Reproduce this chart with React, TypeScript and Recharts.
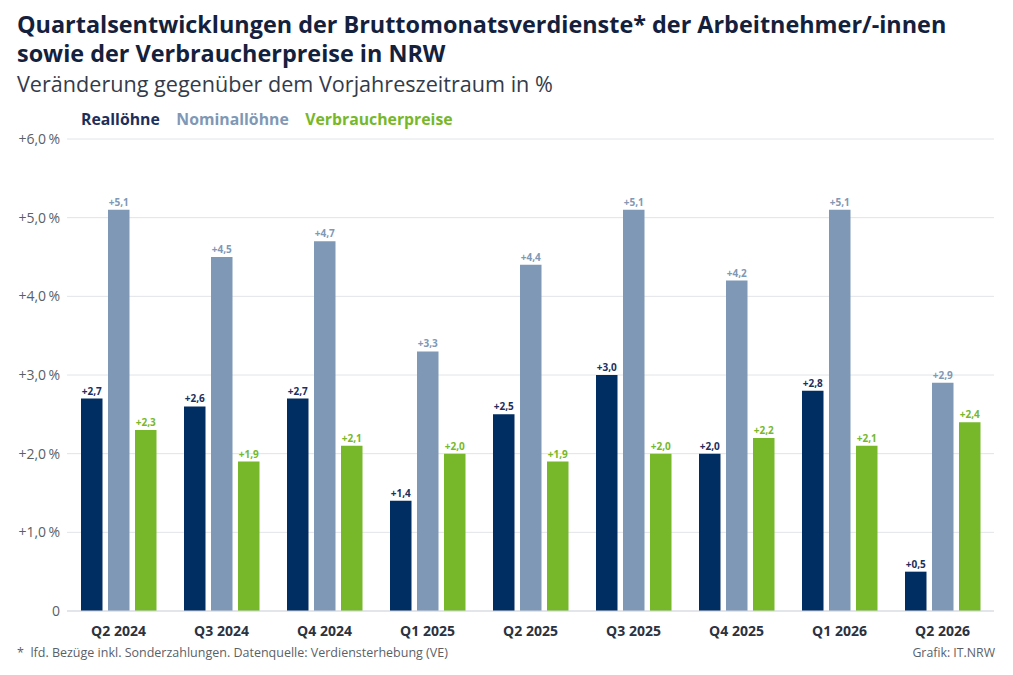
import React from 'react';
import { BarChart, Bar, XAxis, YAxis, CartesianGrid, LabelList } from 'recharts';

const quarters = ['Q2 2024', 'Q3 2024', 'Q4 2024', 'Q1 2025', 'Q2 2025', 'Q3 2025', 'Q4 2025', 'Q1 2026', 'Q2 2026'];
const realLoehne = [2.7, 2.6, 2.7, 1.4, 2.5, 3.0, 2.0, 2.8, 0.5];
const nominalLoehne = [5.1, 4.5, 4.7, 3.3, 4.4, 5.1, 4.2, 5.1, 2.9];
const verbraucherpreise = [2.3, 1.9, 2.1, 2.0, 1.9, 2.0, 2.2, 2.1, 2.4];
const yTicks = [0, 1, 2, 3, 4, 5, 6];

const FONT = '"Open Sans", sans-serif';
const NAVY = '#002d62';
const STEEL = '#7f98b5';
const GREEN = '#76b82a';
const TEXT = '#14213d';

const data = quarters.map((q, i) => ({
  q,
  real: realLoehne[i],
  nominal: nominalLoehne[i],
  preise: verbraucherpreise[i],
}));

const fmtLabel = (v: number) => '+' + v.toFixed(1).replace('.', ',');
const fmtTick = (v: number) => (v === 0 ? '0' : '+' + v.toFixed(1).replace('.', ',') + '\u2009%');

const legendItems = [
  { label: 'Reallöhne', color: '#1c2f5c' },
  { label: 'Nominallöhne', color: STEEL },
  { label: 'Verbraucherpreise', color: GREEN },
];

const App: React.FC = () => {
  const labelStyle = { fontFamily: FONT, fontSize: 10, fontWeight: 700 };
  return (
    <div style={{ position: 'absolute', left: 0, top: 0, width: 1013, height: 675, background: '#fff', overflow: 'hidden' }}>
      <div style={{ position: 'absolute', left: 17, top: 10, fontFamily: FONT, fontWeight: 700, fontSize: 23.4, lineHeight: '29px', color: TEXT, whiteSpace: 'nowrap' }}>
        Quartalsentwicklungen der Bruttomonatsverdienste* der Arbeitnehmer/-innen
        <br />
        sowie der Verbraucherpreise in NRW
      </div>
      <div style={{ position: 'absolute', left: 17, top: 69, fontFamily: FONT, fontSize: 21.6, lineHeight: '29px', color: '#333b4a', whiteSpace: 'nowrap' }}>
        Veränderung gegenüber dem Vorjahreszeitraum in %
      </div>
      <div style={{ position: 'absolute', left: 81, top: 108, display: 'flex', gap: 16.5, fontFamily: FONT, fontWeight: 700, fontSize: 15.8, lineHeight: '22px', whiteSpace: 'nowrap' }}>
        {legendItems.map((l) => (
          <span key={l.label} style={{ color: l.color }}>{l.label}</span>
        ))}
      </div>
      <BarChart
        width={1013}
        height={675}
        data={data}
        margin={{ top: 139, right: 19, bottom: 34, left: 7 }}
        barSize={21.5}
        barGap={5.5}
      >
        <CartesianGrid vertical={false} stroke="#e1e4e8" strokeWidth={1} />
        <XAxis
          dataKey="q"
          axisLine={{ stroke: '#d5d9de' }}
          tickLine={false}
          tickMargin={9}
          height={30}
          tick={{ fontFamily: FONT, fontSize: 14, fontWeight: 700, fill: '#2b3240' }}
        />
        <YAxis
          width={60}
          domain={[0, 6]}
          ticks={yTicks}
          tickFormatter={fmtTick}
          axisLine={false}
          tickLine={false}
          tickMargin={1}
          tick={{ fontFamily: FONT, fontSize: 14, fill: '#5a5f68' }}
        />
        <Bar dataKey="real" name="Reallöhne" fill={NAVY} isAnimationActive={false}>
          <LabelList dataKey="real" position="top" offset={4} formatter={fmtLabel} style={{ ...labelStyle, fill: '#1c2f5c' }} />
        </Bar>
        <Bar dataKey="nominal" name="Nominallöhne" fill={STEEL} isAnimationActive={false}>
          <LabelList dataKey="nominal" position="top" offset={4} formatter={fmtLabel} style={{ ...labelStyle, fill: STEEL }} />
        </Bar>
        <Bar dataKey="preise" name="Verbraucherpreise" fill={GREEN} isAnimationActive={false}>
          <LabelList dataKey="preise" position="top" offset={4} formatter={fmtLabel} style={{ ...labelStyle, fill: GREEN }} />
        </Bar>
      </BarChart>
      <div style={{ position: 'absolute', left: 17, top: 644, fontFamily: FONT, fontSize: 12.5, lineHeight: '17px', color: '#5a5f68', whiteSpace: 'pre' }}>
        {'*  lfd. Bezüge inkl. Sonderzahlungen. Datenquelle: Verdiensterhebung (VE)'}
      </div>
      <div style={{ position: 'absolute', right: 18, top: 644, fontFamily: FONT, fontSize: 12.3, lineHeight: '17px', color: '#5a5f68' }}>
        Grafik: IT.NRW
      </div>
    </div>
  );
};

export default App;
